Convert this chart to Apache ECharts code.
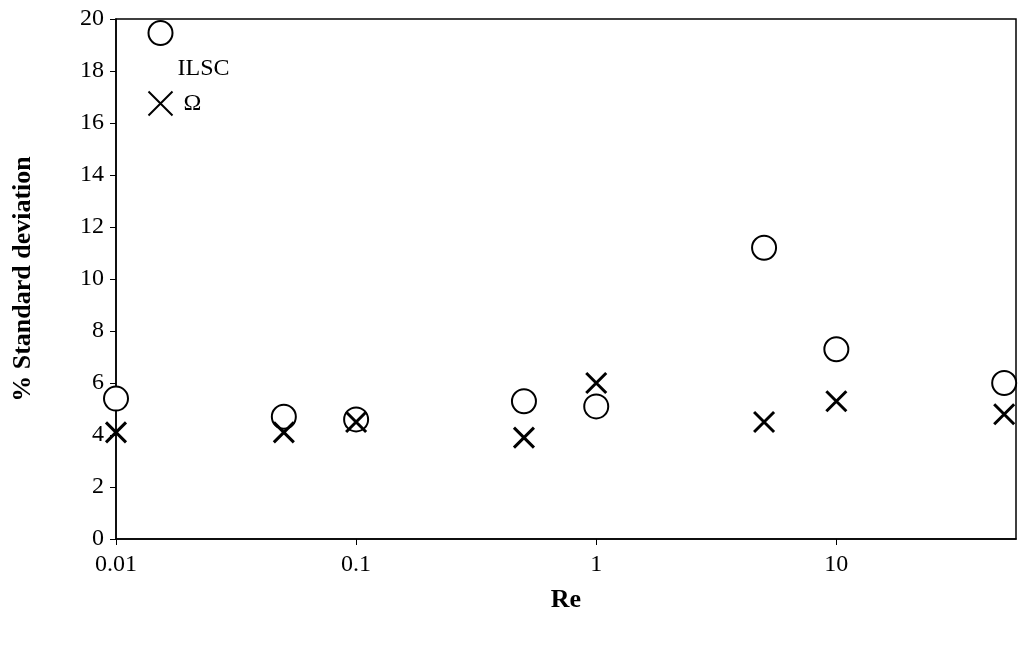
<!DOCTYPE html><html><head><meta charset="utf-8">
<script src="https://cdn.jsdelivr.net/npm/echarts@6/dist/echarts.min.js"></script>
<style>body{margin:0}#c{width:1024px;height:645px}</style></head><body><div id="c"></div><script>
const reValues=[0.01,0.05,0.1,0.5,1,5,10,50];
const ilsc=[5.4,4.7,4.6,5.3,5.1,11.2,7.3,6.0];
const omega=[4.1,4.1,4.5,3.9,6.0,4.5,5.3,4.8];
const yTicks=[0,2,4,6,8,10,12,14,16,18,20];
const xTicks=[0.01,0.1,1,10];
const font='Liberation Serif';
const cross='path://M0,0L10,10M10,0L0,10';
const ch=echarts.init(document.getElementById('c'));
ch.setOption({
 animation:false,
 grid:{left:116,right:8,top:19,bottom:106,show:true,borderColor:'#000',borderWidth:1.5},
 legend:{orient:'vertical',left:146,top:-15,itemGap:8,itemWidth:24,itemHeight:24,padding:0,
  textStyle:{fontFamily:font,fontSize:24,color:'#000',lineHeight:24},
  formatter:n=>n==='ILSC'?'\n\n\nILSC':' Ω',
  data:['ILSC','Ω']},
 xAxis:{type:'log',min:0.01,max:56,logBase:10,
  name:'Re',nameLocation:'middle',nameGap:48,nameTextStyle:{fontFamily:font,fontSize:26,fontWeight:'bold',color:'#000'},
  axisLine:{lineStyle:{color:'#000',width:1.5}},axisTick:{length:6,lineStyle:{color:'#000'}},
  splitLine:{show:false},
  axisLabel:{fontFamily:font,fontSize:24,color:'#000',margin:14,showMaxLabel:false,
   formatter:v=>{const r=+(+v).toPrecision(3);return xTicks.includes(r)?String(r):'';}}},
 yAxis:{type:'value',min:0,max:20,interval:2,
  name:'% Standard deviation',nameLocation:'middle',nameGap:80,nameTextStyle:{fontFamily:font,fontSize:26,fontWeight:'bold',color:'#000'},
  axisLine:{show:true,lineStyle:{color:'#000',width:1.5}},axisTick:{show:true,length:6,lineStyle:{color:'#000'}},
  splitLine:{show:false},
  axisLabel:{fontFamily:font,fontSize:24,color:'#000',margin:12,formatter:v=>yTicks.includes(v)?String(v):''}},
 series:[
  {name:'ILSC',type:'scatter',symbol:'emptyCircle',symbolSize:24,data:reValues.map((x,i)=>[x,ilsc[i]]),
   itemStyle:{color:'#000',borderColor:'#000',borderWidth:2.5,opacity:1}},
  {name:'Ω',type:'scatter',symbol:cross,symbolSize:20,data:reValues.map((x,i)=>[x,omega[i]]),
   itemStyle:{color:'none',borderColor:'#000',borderWidth:3,opacity:1}}
 ]
});
</script></body></html>
